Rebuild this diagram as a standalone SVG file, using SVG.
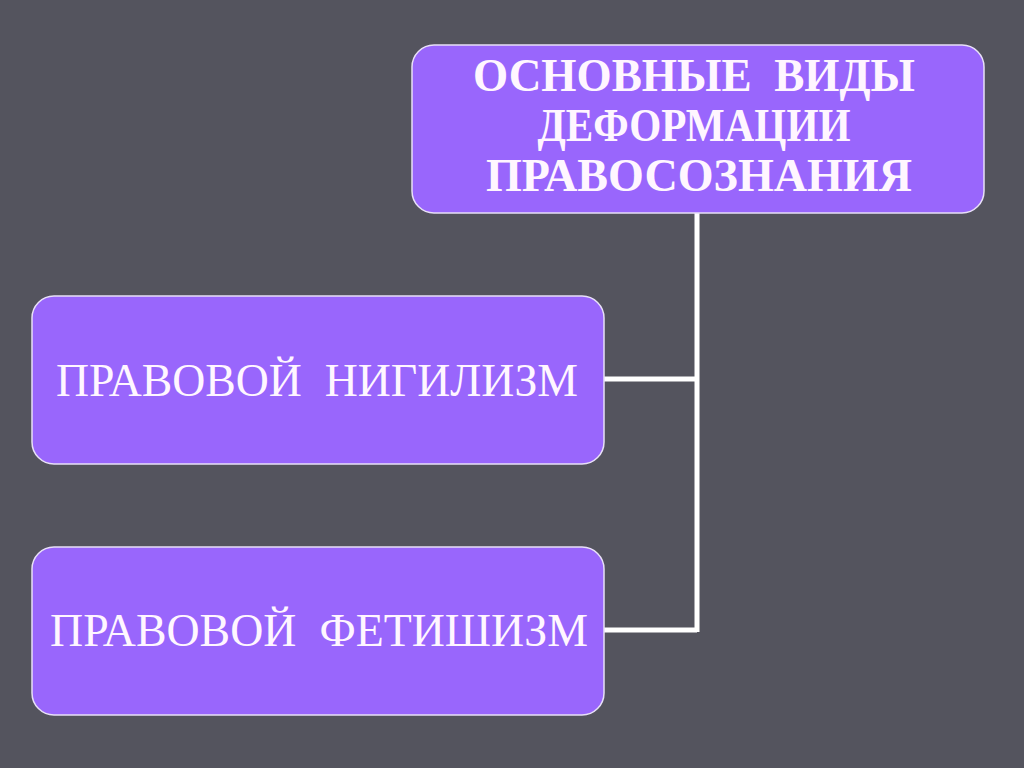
<svg xmlns="http://www.w3.org/2000/svg" width="1024" height="768" viewBox="0 0 1024 768">
<style>
.box{fill:#9966fc;stroke:#e8e0f8;stroke-width:1.5}
.conn{stroke:#ffffff;stroke-width:5;fill:none}
.t{fill:#fff6ff;font-family:"Liberation Serif","Times New Roman",serif;white-space:pre}
.tb{font-weight:bold;font-size:46px}
.tr{font-size:47px}
</style>
<rect width="1024" height="768" fill="#54545e"/>
<g id="connectors">
<path class="conn" d="M697 213 V632"/>
<path class="conn" d="M604 379 H697"/>
<path class="conn" d="M604 630 H697"/>
</g>
<g id="node-main">
<rect class="box" x="412" y="45" width="572" height="168" rx="22"/>
<text class="t tb" x="694" y="91" text-anchor="middle" textLength="442" lengthAdjust="spacingAndGlyphs">ОСНОВНЫЕ  ВИДЫ</text>
<text class="t tb" x="694" y="141" text-anchor="middle" textLength="313" lengthAdjust="spacingAndGlyphs">ДЕФОРМАЦИИ</text>
<text class="t tb" x="699" y="191" text-anchor="middle" textLength="426" lengthAdjust="spacingAndGlyphs">ПРАВОСОЗНАНИЯ</text>
</g>
<g id="node-nihilism">
<rect class="box" x="32" y="296" width="572" height="168" rx="22"/>
<text class="t tr" x="317" y="396" text-anchor="middle" textLength="522" lengthAdjust="spacingAndGlyphs">ПРАВОВОЙ  НИГИЛИЗМ</text>
</g>
<g id="node-fetishism">
<rect class="box" x="32" y="547" width="572" height="168" rx="22"/>
<text class="t tr" x="319" y="646" text-anchor="middle" textLength="538" lengthAdjust="spacingAndGlyphs">ПРАВОВОЙ  ФЕТИШИЗМ</text>
</g>
</svg>
